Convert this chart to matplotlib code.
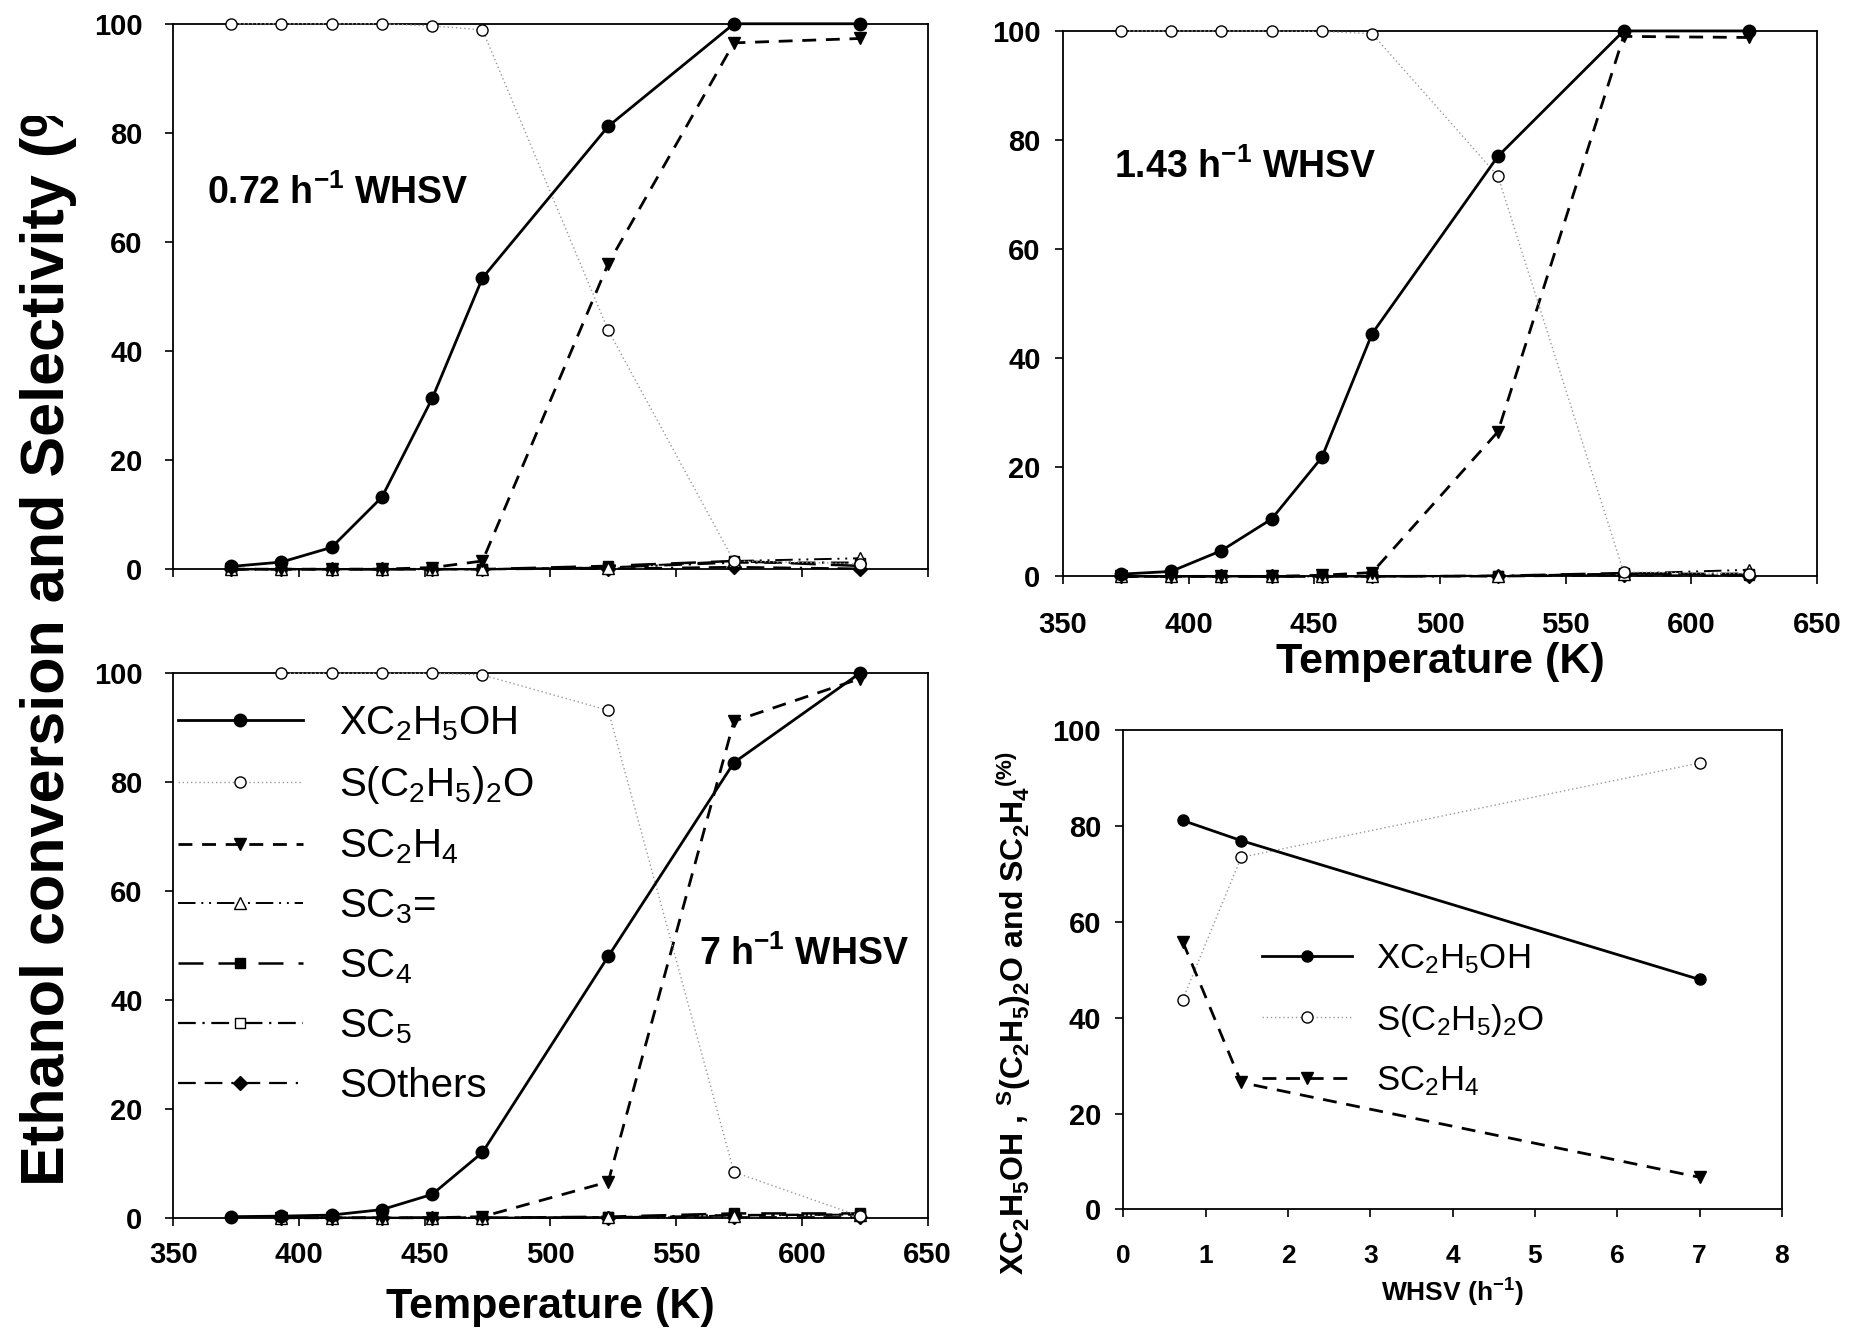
import matplotlib
matplotlib.use('Agg')
import matplotlib.pyplot as plt
from matplotlib import font_manager as fm

plt.rcParams['font.family'] = ['Liberation Sans', 'DejaVu Sans']
plt.rcParams['mathtext.default'] = 'regular'


def pick_font(name, fallback):
    try:
        fm.findfont(fm.FontProperties(family=name), fallback_to_default=False)
        return name
    except Exception:
        return fallback


NARROW = pick_font('Liberation Sans Narrow', 'Liberation Sans')

# ---- data -------------------------------------------------------------
temps = [373, 393, 413, 433, 453, 473, 523, 573, 623]
temps_7 = [393, 413, 433, 453, 473, 523, 573, 623]

# 0.72 h-1 WHSV
x_072 = [0.5, 1.3, 4.0, 13.2, 31.3, 53.4, 81.2, 100, 100]
eth_072 = [100, 100, 100, 100, 99.6, 98.9, 43.8, 1.5, 1.0]
c2h4_072 = [0, 0, 0, 0, 0.3, 1.5, 56.0, 96.5, 97.3]
c3_072 = [0, 0, 0, 0, 0, 0, 0.3, 1.5, 2.0]
c4_072 = [0, 0, 0, 0, 0, 0, 0.6, 1.5, 0.6]
c5_072 = [0, 0, 0, 0, 0, 0, 0.3, 1.2, 1.2]
oth_072 = [0, 0, 0, 0, 0, 0, 0.1, 0.4, 0.1]

# 1.43 h-1 WHSV
x_143 = [0.4, 0.9, 4.7, 10.5, 21.8, 44.5, 77.0, 100, 100]
eth_143 = [100, 100, 100, 100, 99.9, 99.5, 73.4, 0.8, 0.5]
c2h4_143 = [0, 0, 0, 0, 0.2, 0.7, 26.5, 99.0, 98.8]
c3_143 = [0, 0, 0, 0, 0, 0, 0.1, 0.5, 1.2]
c4_143 = [0, 0, 0, 0, 0, 0, 0.1, 0.6, 0.3]
c5_143 = [0, 0, 0, 0, 0, 0, 0.1, 0.4, 0.5]
oth_143 = [0, 0, 0, 0, 0, 0, 0, 0.2, 0.1]

# 7 h-1 WHSV (only conversion measured at 373 K)
x_7 = [0.2, 0.3, 0.5, 1.5, 4.3, 12.0, 48.0, 83.6, 100]
eth_7 = [100, 100, 100, 100, 99.7, 93.2, 8.4, 0.3]
c2h4_7 = [0, 0, 0, 0, 0.2, 6.6, 91.2, 99.0]
c3_7 = [0, 0, 0, 0, 0, 0.1, 0.4, 0.6]
c4_7 = [0, 0, 0, 0, 0, 0.2, 0.8, 0.8]
c5_7 = [0, 0, 0, 0, 0, 0.1, 0.5, 0.6]
oth_7 = [0, 0, 0, 0, 0, 0, 0.1, 0.1]

# 523 K vs WHSV
whsv = [0.72, 1.43, 7]
x_whsv = [81.2, 77.0, 48.0]
eth_whsv = [43.8, 73.5, 93.2]
c2h4_whsv = [55.9, 26.5, 6.7]

lbl_x = r'XC$_2$H$_5$OH'
lbl_eth = r'S(C$_2$H$_5$)$_2$O'
lbl_c2h4 = r'SC$_2$H$_4$'
lbl_c3 = r'SC$_3$='
lbl_c4 = r'SC$_4$'
lbl_c5 = r'SC$_5$'
lbl_oth = r'SOthers'

GREY = '#9a9a9a'


def draw_series(ax, t, tt, x, eth, c2h4, c3, c4, c5, oth):
    ax.plot(tt, oth, color='k', lw=1.6, ls=(0, (8, 4, 8, 4, 1, 4)), marker='D', ms=7,
            mfc='k', mec='k', label=lbl_oth, zorder=3)
    ax.plot(tt, c5, color='k', lw=1.6, ls=(0, (8, 3, 1, 3)), marker='s', ms=7,
            mfc='white', mec='k', label=lbl_c5, zorder=3)
    ax.plot(tt, c4, color='k', lw=1.8, ls=(0, (10, 6)), marker='s', ms=7,
            mfc='k', mec='k', label=lbl_c4, zorder=3)
    ax.plot(tt, c3, color='k', lw=1.4, ls=(0, (9, 3, 1, 3, 1, 3)), marker='^', ms=8,
            mfc='white', mec='k', label=lbl_c3, zorder=3)
    ax.plot(tt, c2h4, color='k', lw=2.0, ls=(0, (5, 3.5)), marker='v', ms=9,
            mfc='k', mec='k', label=lbl_c2h4, zorder=4)
    ax.plot(tt, eth, color=GREY, lw=1.0, ls=(0, (1, 2)), marker='o', ms=8,
            mfc='white', mec='k', mew=1.0, label=lbl_eth, zorder=4)
    ax.plot(t, x, color='k', lw=2.0, ls='-', marker='o', ms=9,
            mfc='k', mec='k', label=lbl_x, zorder=5)


def style_temp_axis(ax, xlabels=True, ypad=12, xpad=8):
    ax.set_xlim(350, 650)
    ax.set_ylim(0, 100)
    ax.set_xticks([350, 400, 450, 500, 550, 600, 650])
    ax.set_yticks([0, 20, 40, 60, 80, 100])
    ax.tick_params(direction='out', length=6, width=1.2, top=False, right=False,
                   labelsize=21, pad=ypad)
    ax.tick_params(axis='x', pad=xpad)
    for lab in ax.get_xticklabels() + ax.get_yticklabels():
        lab.set_fontweight('bold')
    if not xlabels:
        ax.set_xticklabels([])
    for sp in ax.spines.values():
        sp.set_linewidth(1.3)


fig = plt.figure(figsize=(18.6, 13.28), dpi=100)

axA = fig.add_axes([0.0931, 0.5714, 0.4056, 0.4107])
axB = fig.add_axes([0.5714, 0.5660, 0.4056, 0.4107])
axC = fig.add_axes([0.0931, 0.0830, 0.4056, 0.4100])
axD = fig.add_axes([0.6040, 0.0893, 0.3540, 0.3607])

draw_series(axA, temps, temps, x_072, eth_072, c2h4_072, c3_072, c4_072, c5_072, oth_072)
draw_series(axB, temps, temps, x_143, eth_143, c2h4_143, c3_143, c4_143, c5_143, oth_143)
draw_series(axC, temps, temps_7, x_7, eth_7, c2h4_7, c3_7, c4_7, c5_7, oth_7)

style_temp_axis(axA, xlabels=False, ypad=16)
style_temp_axis(axB, ypad=10, xpad=19)
style_temp_axis(axC, ypad=16, xpad=11)

for ax in (axA, axB, axC):
    for ln in ax.lines:
        ln.set_clip_on(False)

axB.set_xlabel('Temperature (K)', fontsize=31, fontweight='bold', labelpad=2)
axC.set_xlabel('Temperature (K)', fontsize=31, fontweight='bold', labelpad=13)

axA.text(363.5, 69, r'0.72 h$^{-1}$ WHSV', fontsize=27, fontweight='bold',
         family=NARROW, va='center', ha='left')
axB.text(370.5, 75, r'1.43 h$^{-1}$ WHSV', fontsize=27, fontweight='bold',
         family=NARROW, va='center', ha='left')
axC.text(559, 48.5, r'7 h$^{-1}$ WHSV', fontsize=27, fontweight='bold',
         family=NARROW, va='center', ha='left')

# legend in panel C, ordered top to bottom as in the original
h, l = axC.get_legend_handles_labels()
order = [lbl_x, lbl_eth, lbl_c2h4, lbl_c3, lbl_c4, lbl_c5, lbl_oth]
hd = dict(zip(l, h))
axC.legend([hd[k] for k in order], order, loc='upper left', bbox_to_anchor=(0.006, 0.943),
           frameon=False, fontsize=29, handlelength=3.1, handletextpad=0.9,
           labelspacing=0.53, borderpad=0, borderaxespad=0, numpoints=1)

# ---- panel D: 523 K vs WHSV ----
axD.plot(whsv, x_whsv, color='k', lw=2.0, marker='o', ms=8, mfc='k', mec='k',
         label=lbl_x, zorder=5)
axD.plot(whsv, eth_whsv, color=GREY, lw=1.0, ls=(0, (1, 2)), marker='o', ms=8,
         mfc='white', mec='k', label=lbl_eth, zorder=4)
axD.plot(whsv, c2h4_whsv, color='k', lw=2.0, ls=(0, (5, 3.5)), marker='v', ms=8,
         mfc='k', mec='k', label=lbl_c2h4, zorder=4)
axD.set_xlim(0, 8)
axD.set_ylim(0, 100)
axD.set_xticks(range(0, 9))
axD.set_yticks([0, 20, 40, 60, 80, 100])
axD.tick_params(direction='out', length=6, width=1.2, labelsize=21, pad=10)
axD.tick_params(axis='x', labelsize=19, pad=19)
for lab in axD.get_xticklabels() + axD.get_yticklabels():
    lab.set_fontweight('bold')
for sp in axD.spines.values():
    sp.set_linewidth(1.3)
axD.set_xlabel(r'WHSV (h$^{-1}$)', fontsize=19, fontweight='bold', labelpad=6)
axD.legend(loc='upper left', bbox_to_anchor=(0.21, 0.558), frameon=False, fontsize=25,
           handlelength=2.6, handletextpad=0.7, labelspacing=0.74, borderpad=0,
           borderaxespad=0, numpoints=1)

fig.text(0.545, 0.237,
         r'XC$_2$H$_5$OH , $^{S}$(C$_2$H$_5$)$_2$O and SC$_2$H$_4$$^{(\%)}$',
         rotation=90, ha='center', va='center', fontsize=23, fontweight='bold')

# common y label, clipped at the top like in the original
axL = fig.add_axes([0.0, 0.0, 0.07, 0.913])
axL.set_axis_off()
axL.set_xlim(0, 1)
axL.set_ylim(0, 1)
axL.text(0.37, 0.107 / 0.913, 'Ethanol conversion and Selectivity (%)', rotation=90,
         ha='center', va='bottom', fontsize=44, fontweight='bold', family=NARROW,
         clip_on=True)

fig.savefig('out.png', dpi=100)
